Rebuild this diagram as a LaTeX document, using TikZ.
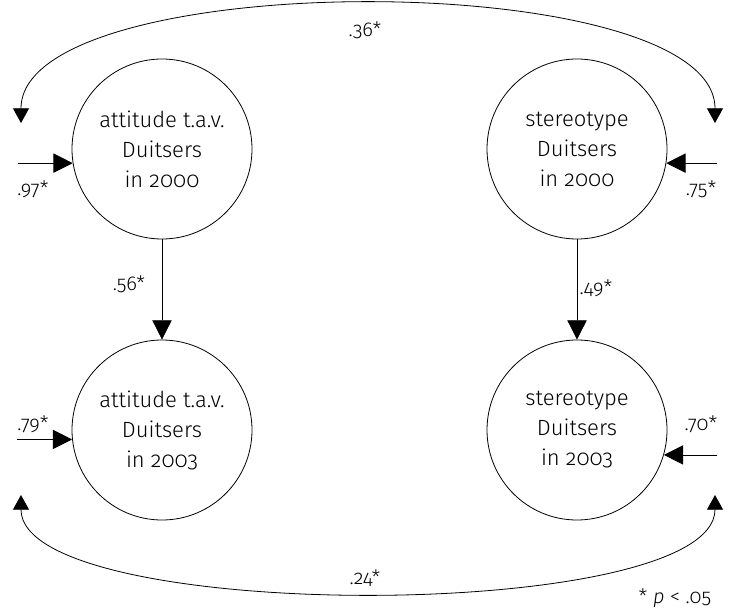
\documentclass[tikz,border=0pt]{standalone}
\usepackage{fontspec}
\setmainfont{Fira Sans Light}[Numbers=OldStyle]
\usepackage{tikz}
\usetikzlibrary{arrows.meta}
\usetikzlibrary{positioning}

\tikzset{
	latent/.style={circle, draw, line width=0.6pt, minimum size=135pt, inner sep=0pt,
		align=center, font=\fontsize{16.5}{22.5}\selectfont},
	path/.style={line width=0.6pt, -{Triangle[length=14.5pt,width=14.5pt]}},
	cov/.style={line width=0.6pt, {Triangle[length=11pt,width=12pt]}-{Triangle[length=11pt,width=12pt]}},
	coef/.style={font=\fontsize{15}{17}\selectfont, inner sep=0pt}
}

\begin{document}
\begin{tikzpicture}[x=0.75pt,y=-0.75pt]
		\useasboundingbox (0,0) rectangle (731,613);
		% latent variables
		\node[latent] (att00) at (162,149) {attitude t.a.v.\\Duitsers\\in 2000};
		\node[latent] (ste00) at (577,149) {stereotype\\Duitsers\\in 2000};
		\node[latent] (att03) at (162,430) {attitude t.a.v.\\Duitsers\\in 2003};
		\node[latent] (ste03) at (577,430) {stereotype\\Duitsers\\in 2003};
		% stability paths
		\draw[path] (att00) -- (att03);
		\draw[path] (ste00) -- (ste03);
		\node[coef] (b56) at (129,284) {.56*};
		\node[coef] (b49) at (596,288) {.49*};
		% residuals
		\coordinate[left=41pt of att00.189] (e1);
		\coordinate[left=41pt of att03.186] (e2);
		\coordinate[right=38pt of ste00.351] (e3);
		\coordinate[right=40pt of ste03.344.5] (e4);
		\draw[path] (e1) -- (att00.189);
		\draw[path] (e2) -- (att03.186);
		\draw[path] (e3) -- (ste00.351);
		\draw[path] (e4) -- (ste03.344.5);
		\node[coef] (r97) at (33,189) {.97*};
		\node[coef] (r79) at (33,424) {.79*};
		\node[coef] (r75) at (701,189) {.75*};
		\node[coef] (r70) at (701,424) {.70*};
		% correlations
		\coordinate (c1) at (21,123);
		\coordinate (c2) at (715,123);
		\coordinate (c3) at (21,495);
		\coordinate (c4) at (715,495);
		\draw[cov] (c1) .. controls (21,-34) and (715,-34) .. (c2);
		\draw[cov] (c3) .. controls (21,624) and (715,624) .. (c4);
		\node[coef] (r36) at (365,30) {.36*};
		\node[coef] (r24) at (365,578) {.24*};
		\node[coef] (note) at (675,598) {* \textit{p} < .05};
	\end{tikzpicture}
\end{document}
